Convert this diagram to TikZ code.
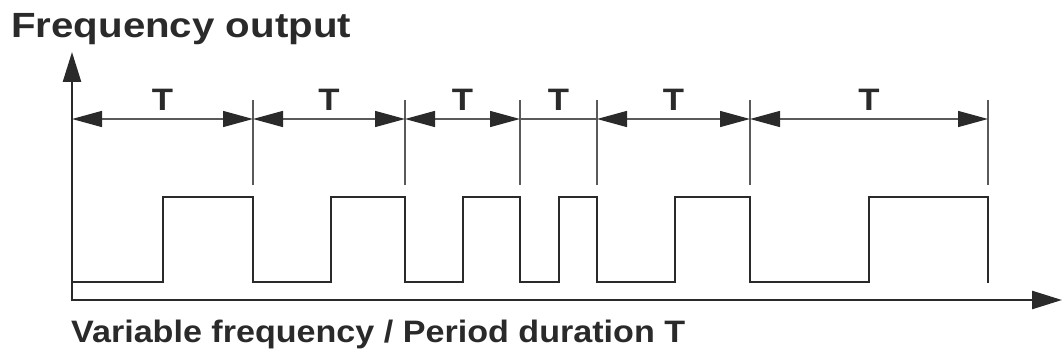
\documentclass[tikz,border=0pt]{standalone}
\usepackage{fontspec}
\setmainfont{Liberation Sans}
\usetikzlibrary{arrows.meta,calc}
\definecolor{ink}{HTML}{2A2A2A}
\definecolor{dimc}{HTML}{5A5A5A}
\begin{document}
\begin{tikzpicture}[x=1pt,y=-1pt,
  axis/.style={draw=ink,line width=2.6pt,-{Triangle[length=30pt,width=18pt]}},
  signal/.style={draw=ink,line width=2.8pt,line join=miter},
  dimline/.style={draw=dimc,line width=1.4pt},
  dimarrows/.style={dimline,{Triangle[length=30pt,width=16pt,color=ink]}-{Triangle[length=30pt,width=16pt,color=ink]}},
  tickline/.style={draw=dimc,line width=1.2pt},
  lbl/.style={text=ink,inner sep=0pt,font=\bfseries},
]
\useasboundingbox (0,0) rectangle (1062,355);
% axes
\coordinate (origin) at (72,300);
\coordinate (ytop) at (72,52);
\coordinate (xend) at (1062,300);
\draw[axis] (72,301.3) -- (ytop);
\draw[axis] (70.7,300) -- (xend);
% ticks and dimension points
\foreach \n/\x in {0/72,1/253,2/405,3/520,4/597,5/750,6/988}{
  \coordinate (d\n) at (\x,119);
}
\foreach \n/\x in {1/253,2/405,3/520,4/597,5/750,6/988}{
  \coordinate (ta\n) at (\x,100);
  \coordinate (tb\n) at (\x,185);
  \draw[tickline] (ta\n) -- (tb\n);
}
\foreach \a/\b in {0/1,1/2,2/3,4/5,5/6}{
  \draw[dimarrows] (d\a) -- (d\b);
}
\draw[dimline] (d3) -- (d4);
\foreach \a/\b in {0/1,1/2,2/3,3/4,4/5,5/6}{
  \node[lbl,anchor=base] (T\a) at ($(d\a)!0.5!(d\b)+(0,-8)$) {\scalebox{1.12}[1]{\fontsize{31}{31}\selectfont T}};
}
% signal
\draw[signal] (72,282) -- (163,282) -- (163,197) -- (253,197) -- (253,282)
  -- (331,282) -- (331,197) -- (405,197) -- (405,282)
  -- (463,282) -- (463,197) -- (520,197) -- (520,282)
  -- (559,282) -- (559,197) -- (597,197) -- (597,282)
  -- (675,282) -- (675,197) -- (750,197) -- (750,282)
  -- (869,282) -- (869,197) -- (988,197) -- (988,283.4);
% texts
\node[lbl,anchor=base west] (title) at (11,38) {\scalebox{1.15}[1]{\fontsize{35}{35}\selectfont Frequency output}};
\node[lbl,anchor=base west] (xlabel) at (71,342) {\scalebox{1.1}[1]{\fontsize{31}{31}\selectfont Variable frequency / Period duration T}};
\end{tikzpicture}
\end{document}
